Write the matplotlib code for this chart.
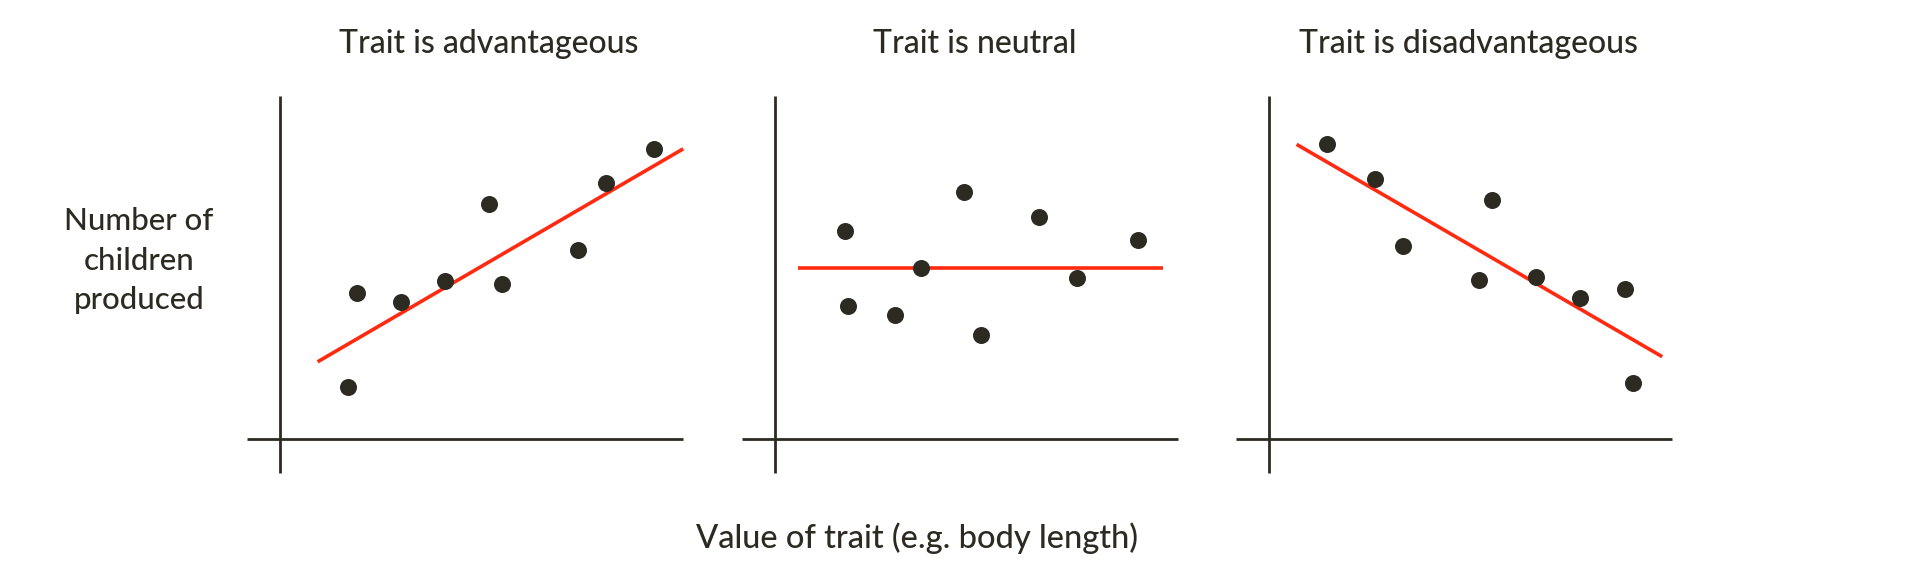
import matplotlib
matplotlib.use('Agg')
import matplotlib.pyplot as plt

# Drei Panels: Merkmal vorteilhaft / neutral / nachteilig
titles = ['Trait is advantageous', 'Trait is neutral', 'Trait is disadvantageous']

adv_x = [1.69, 1.92, 3.03, 4.13, 5.23, 5.55, 7.45, 8.15, 9.36]
adv_y = [1.51, 4.27, 3.99, 4.62, 6.84, 4.52, 5.50, 7.45, 8.45]
adv_line_x = [0.94, 10.08]
adv_line_y = [2.25, 8.46]

neu_x = [1.75, 1.83, 3.00, 3.64, 4.73, 5.14, 6.60, 7.55, 9.08]
neu_y = [6.06, 3.88, 3.61, 4.98, 7.21, 3.04, 6.48, 4.69, 5.79]
neu_line_x = [0.58, 9.71]
neu_line_y = [4.98, 4.98]

dis_x = [1.45, 2.65, 3.34, 5.24, 5.58, 6.68, 7.78, 8.90, 9.11]
dis_y = [8.59, 7.58, 5.63, 4.64, 6.97, 4.73, 4.10, 4.36, 1.62]
dis_line_x = [0.69, 9.83]
dis_line_y = [8.59, 2.40]

panels = [
    (adv_x, adv_y, adv_line_x, adv_line_y),
    (neu_x, neu_y, neu_line_x, neu_line_y),
    (dis_x, dis_y, dis_line_x, dis_line_y),
]

dark = '#2d2a22'
red = '#ff2a10'
font = ['Lato', 'DejaVu Sans']

W, H = 1917, 575
fig = plt.figure(figsize=(W / 100, H / 100), dpi=100)

origins = [280, 775, 1269]   # x-Position der y-Achse in Pixeln
title_x = [489, 975, 1468]
ux, uy = 40.0, 34.3          # Pixel pro Einheit

for i, (xs, ys, lx, ly) in enumerate(panels):
    ox = origins[i]
    left = (ox - 1.0 * ux) / W
    bottom = (H - (439 + 1.2 * uy)) / H
    ax = fig.add_axes([left, bottom, 11.5 * ux / W, 11.5 * uy / H])
    ax.set_xlim(-1.0, 10.5)
    ax.set_ylim(-1.2, 10.3)
    ax.axis('off')
    # Achsenkreuz
    ax.plot([-0.82, 10.08], [0, 0], color=dark, lw=2, solid_capstyle='butt')
    ax.plot([0, 0], [-0.99, 10.0], color=dark, lw=2, solid_capstyle='butt')
    ax.plot(lx, ly, color=red, lw=2.6, solid_capstyle='butt')
    ax.scatter(xs, ys, s=150, color=dark, zorder=3, linewidths=0)
    fig.text(title_x[i] / W, 1 - 44 / H, titles[i], ha='center', va='center',
             fontsize=23, color=dark, family=font, fontweight='medium')

fig.text(139 / W, 1 - 261 / H, 'Number of\nchildren\nproduced', ha='center', va='center',
         fontsize=22.5, color=dark, family=font, fontweight='medium', linespacing=1.5)
fig.text(917 / W, 1 - 538 / H, 'Value of trait (e.g. body length)', ha='center', va='center',
         fontsize=23.5, color=dark, family=font, fontweight='medium')

fig.savefig('out.png', dpi=100, facecolor='white')
